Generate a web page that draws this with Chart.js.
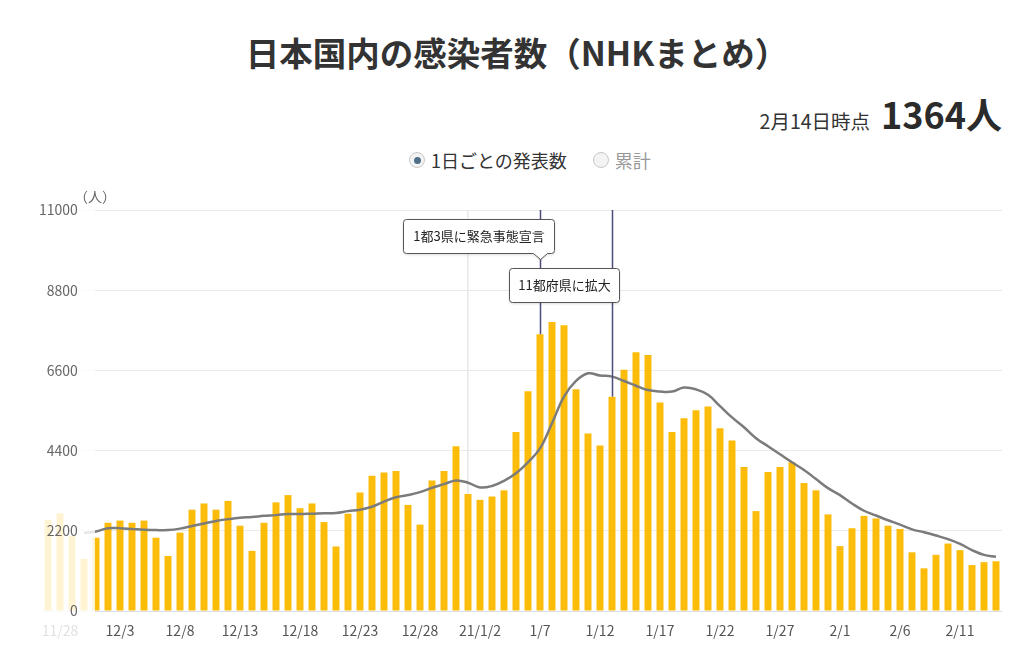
<!DOCTYPE html>
<html lang="ja">
<head>
<meta charset="utf-8">
<title>日本国内の感染者数</title>
<script src="https://cdn.jsdelivr.net/npm/chart.js@4.4.1/dist/chart.umd.min.js"></script>
<style>
  body { margin: 0; width: 1024px; height: 655px; overflow: hidden; background: #fff; position: relative;
         font-family: "Noto Sans CJK JP", "Noto Sans", sans-serif; color: #333; }
  #title { position: absolute; top: 30px; left: 0; width: 1034px; text-align: center;
           font-size: 33.5px; font-weight: 700; line-height: 44px; color: #333; }
  #stamp { position: absolute; right: 22px; top: 87px; display: flex; align-items: baseline; }
  #stamp .when { font-size: 19.5px; margin-right: 11px; color: #333; }
  #stamp .num { font-size: 36px; font-weight: 700; color: #2b2b2b; }
  #legend { position: absolute; top: 147px; left: 409px; display: flex; align-items: center; font-size: 18px; }
  .radio { width: 14px; height: 14px; border-radius: 50%; border: 1px solid #c8c8c8; background: #f4f4f4;
           display: inline-block; position: relative; margin-right: 6px; }
  .radio.on::after { content: ""; position: absolute; left: 3.5px; top: 3.5px; width: 7px; height: 7px;
           border-radius: 50%; background: #4f6f89; }
  #wrap { position: absolute; left: 0; top: 180px; width: 1024px; height: 475px; }
</style>
</head>
<body>
<div id="title">日本国内の感染者数（NHKまとめ）</div>
<div id="stamp"><span class="when">2月14日時点</span><span class="num">1364人</span></div>
<div id="legend">
  <span class="radio on"></span><span style="color:#333;margin-right:26px">1日ごとの発表数</span>
  <span class="radio"></span><span style="color:#999">累計</span>
</div>
<div id="wrap"><canvas id="chart"></canvas></div>

<script>
// dates shown on the x axis (11/27 - 2/14)
const categories = [
  '11/27','11/28','11/29','11/30',
  '12/1','12/2','12/3','12/4','12/5','12/6','12/7','12/8','12/9','12/10',
  '12/11','12/12','12/13','12/14','12/15','12/16','12/17','12/18','12/19','12/20',
  '12/21','12/22','12/23','12/24','12/25','12/26','12/27','12/28','12/29','12/30','12/31',
  '1/1','1/2','1/3','1/4','1/5','1/6','1/7','1/8','1/9','1/10',
  '1/11','1/12','1/13','1/14','1/15','1/16','1/17','1/18','1/19','1/20',
  '1/21','1/22','1/23','1/24','1/25','1/26','1/27','1/28','1/29','1/30','1/31',
  '2/1','2/2','2/3','2/4','2/5','2/6','2/7','2/8','2/9','2/10',
  '2/11','2/12','2/13','2/14'
];

// daily reported cases
const daily = [
  2500, 2680, 2060, 1430,
  2010, 2420, 2480, 2420, 2480, 2010, 1510, 2150, 2780, 2950,
  2780, 3020, 2340, 1650, 2420, 2980, 3180, 2820, 2950, 2440,
  1770, 2670, 3250, 3710, 3800, 3840, 2910, 2370, 3580, 3840, 4520,
  3210, 3050, 3140, 3310, 4910, 6030, 7590, 7930, 7840, 6080,
  4870, 4540, 5880, 6620, 7100, 7020, 5720, 4910, 5290, 5510,
  5610, 5010, 4680, 3950, 2740, 3810, 3950, 4080, 3510, 3310, 2650,
  1780, 2270, 2610, 2540, 2340, 2250, 1610, 1170, 1540, 1850,
  1670, 1260, 1340, 1364
];

// 7-day average line
const weekAvg = [
  null, null, null, 2140,
  2180, 2270, 2270, 2250, 2230, 2220, 2220, 2260, 2330, 2400,
  2470, 2520, 2560, 2580, 2610, 2630, 2660, 2660, 2670, 2680,
  2690, 2740, 2780, 2860, 3000, 3120, 3180, 3260, 3380, 3480, 3580,
  3520, 3390, 3430, 3570, 3780, 4080, 4460, 5150, 5880, 6310,
  6520, 6460, 6430, 6310, 6180, 6060, 6020, 6020, 6130, 6080,
  5930, 5620, 5310, 5040, 4740, 4520, 4300, 4080, 3870, 3620, 3370,
  3180, 2950, 2750, 2620, 2490, 2370, 2240, 2160, 2070, 1970,
  1840, 1670, 1540, 1490
];

// every 5th day gets a label, starting at 11/28
const xTickLabels = ['11/28','12/3','12/8','12/13','12/18','12/23','12/28','21/1/2',
                     '1/7','1/12','1/17','1/22','1/27','2/1','2/6','2/11'];
const yTicks = [0, 2200, 4400, 6600, 8800, 11000];

// events marked on the chart
const eventDates = ['1/7', '1/13'];
const eventTexts = ['1都3県に緊急事態宣言', '11都府県に拡大'];

const newYear = categories.indexOf('1/1');
const firstShown = categories.indexOf('12/1');

Chart.defaults.font.family = '"Noto Sans CJK JP", "Noto Sans", sans-serif';

// older days sit under a white veil, like the scrolled part of the original
const fadePlugin = {
  id: 'fadeLeft',
  afterDatasetsDraw(chart) {
    const c = chart.ctx;
    const edge = chart.scales.x.getPixelForValue(firstShown) - 1;
    c.save();
    c.fillStyle = 'rgba(255,255,255,0.82)';
    c.fillRect(0, 0, edge, chart.height);
    c.restore();
  }
};

// box positions relative to the marker line and the top of the plot
const boxLayout = [
  { left: -137, right: 14, top: 9, bottom: 43, pointer: true },
  { left: -103, right: 7, top: 58, bottom: 92, pointer: false }
];

const eventPlugin = {
  id: 'events',
  afterDatasetsDraw(chart) {
    const c = chart.ctx;
    const xs = chart.scales.x, ys = chart.scales.y;
    const top = chart.chartArea.top;
    c.save();
    // marker lines first
    eventDates.forEach(d => {
      const i = categories.indexOf(d);
      const x = Math.round(xs.getPixelForValue(i)) + 0.5;
      c.strokeStyle = '#4b4b7c';
      c.lineWidth = 1.5;
      c.beginPath();
      c.moveTo(x, top);
      c.lineTo(x, ys.getPixelForValue(daily[i]));
      c.stroke();
    });
    // then the boxes
    eventDates.forEach((d, k) => {
      const i = categories.indexOf(d);
      const x = Math.round(xs.getPixelForValue(i)) + 0.5;
      const b = boxLayout[k];
      const l = x + b.left, r = x + b.right, t = top + b.top + 0.5, btm = top + b.bottom + 0.5;
      c.beginPath();
      c.moveTo(l + 3, t);
      c.lineTo(r - 3, t);
      c.quadraticCurveTo(r, t, r, t + 3);
      c.lineTo(r, btm - 3);
      c.quadraticCurveTo(r, btm, r - 3, btm);
      if (b.pointer) {
        c.lineTo(x + 7, btm);
        c.lineTo(x, btm + 6);
        c.lineTo(x - 7, btm);
      }
      c.lineTo(l + 3, btm);
      c.quadraticCurveTo(l, btm, l, btm - 3);
      c.lineTo(l, t + 3);
      c.quadraticCurveTo(l, t, l + 3, t);
      c.closePath();
      c.shadowColor = 'rgba(0,0,0,0.18)';
      c.shadowBlur = 3;
      c.shadowOffsetY = 1;
      c.fillStyle = '#fff';
      c.fill();
      c.shadowColor = 'transparent';
      c.strokeStyle = '#555';
      c.lineWidth = 1;
      c.stroke();
      c.fillStyle = '#222';
      c.font = '13px "Noto Sans CJK JP", sans-serif';
      c.textAlign = 'center';
      c.textBaseline = 'middle';
      c.fillText(eventTexts[k], (l + r) / 2, (t + btm) / 2);
    });
    c.restore();
  },
  afterDraw(chart) {
    const c = chart.ctx;
    c.save();
    c.fillStyle = '#666';
    c.font = '14px "Noto Sans CJK JP", sans-serif';
    c.textAlign = 'left';
    c.textBaseline = 'middle';
    c.fillText('（人）', 74, chart.chartArea.top - 13);
    c.restore();
  }
};

new Chart(document.getElementById('chart'), {
  data: {
    labels: categories,
    datasets: [
      {
        type: 'line',
        label: '7日間平均',
        data: weekAvg,
        borderColor: '#7b7b7b',
        borderWidth: 2.5,
        pointRadius: 0,
        tension: 0.4,
        order: 0
      },
      {
        type: 'bar',
        label: '1日ごとの発表数',
        data: daily,
        backgroundColor: '#fcbc09',
        barPercentage: 0.58,
        categoryPercentage: 1.0,
        order: 1
      }
    ]
  },
  options: {
    responsive: true,
    maintainAspectRatio: false,
    animation: false,
    layout: { padding: { left: 42, right: 22, top: 30, bottom: 0 } },
    plugins: {
      legend: { display: false },
      tooltip: { enabled: false }
    },
    scales: {
      x: {
        offset: true,
        grid: {
          offset: false,
          drawTicks: false,
          lineWidth: 1.5,
          color: ctx => ctx.index === newYear ? '#e8e8e8' : 'rgba(0,0,0,0)'
        },
        border: { display: false },
        ticks: {
          autoSkip: false,
          maxRotation: 0,
          padding: 11,
          color: '#555',
          font: { size: 14 },
          callback: (v, i) => (i >= 1 && (i - 1) % 5 === 0) ? xTickLabels[(i - 1) / 5] : ''
        },
        afterFit: s => { s.height = 44; }
      },
      y: {
        min: 0,
        max: 11000,
        afterBuildTicks: s => { s.ticks = yTicks.map(v => ({ value: v })); },
        grid: {
          drawTicks: false,
          color: ctx => ctx.tick && ctx.tick.value === 0 ? '#d6dde4' : '#e9e9e9'
        },
        border: { display: false },
        ticks: {
          mirror: true,
          crossAlign: 'far',
          padding: -3,
          z: 1,
          color: '#666',
          font: { size: 14 },
          callback: v => String(v)
        },
        afterFit: s => { s.width = 0; }
      }
    }
  },
  plugins: [fadePlugin, eventPlugin]
});
</script>
</body>
</html>
